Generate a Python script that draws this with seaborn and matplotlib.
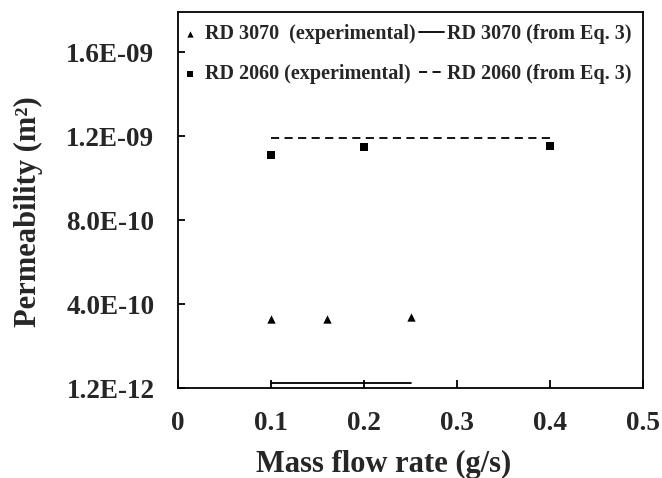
import seaborn as sns
import matplotlib.pyplot as plt
import pandas as pd

# Экспериментальные точки
rd3070_flow = [0.1, 0.16, 0.25]
rd3070_perm = [3.33e-10, 3.29e-10, 3.40e-10]
rd2060_flow = [0.1, 0.2, 0.4]
rd2060_perm = [1.112e-09, 1.150e-09, 1.155e-09]

# Расчёт по уравнению 3
rd3070_eq_flow = [0.1, 0.25]
rd3070_eq_perm = [2.7e-11, 2.7e-11]
rd2060_eq_flow = [0.1, 0.4]
rd2060_eq_perm = [1.19e-09, 1.19e-09]

x_ticks = [0, 0.1, 0.2, 0.3, 0.4, 0.5]
x_labels = ['0', '0.1', '0.2', '0.3', '0.4', '0.5']
y_ticks = [1.2e-12, 4.012e-10, 8.012e-10, 1.2012e-09, 1.6012e-09]
y_labels = ['1.2E-12', '4.0E-10', '8.0E-10', '1.2E-09', '1.6E-09']

sns.set_style('ticks')
plt.rcParams['font.family'] = ['Liberation Serif', 'DejaVu Serif']
plt.rcParams['font.weight'] = 'bold'

fig = plt.figure(figsize=(6.62, 4.78), dpi=100)
ax = fig.add_axes([0.2689, 0.1877, 0.7024, 0.7878])

df3070 = pd.DataFrame({'flow': rd3070_flow, 'perm': rd3070_perm})
df2060 = pd.DataFrame({'flow': rd2060_flow, 'perm': rd2060_perm})
eq3070 = pd.DataFrame({'flow': rd3070_eq_flow, 'perm': rd3070_eq_perm})
eq2060 = pd.DataFrame({'flow': rd2060_eq_flow, 'perm': rd2060_eq_perm})

sns.scatterplot(data=df3070, x='flow', y='perm', marker='^', s=36, color='black',
                edgecolor='black', linewidth=0, label='RD 3070  (experimental)', ax=ax)
sns.scatterplot(data=df2060, x='flow', y='perm', marker='s', s=36, color='black',
                edgecolor='black', linewidth=0, label='RD 2060 (experimental)', ax=ax)
sns.lineplot(data=eq3070, x='flow', y='perm', color='black', linewidth=1.3,
             label='RD 3070 (from Eq. 3)', ax=ax)
sns.lineplot(data=eq2060, x='flow', y='perm', color='black', linewidth=1.3,
             dashes=False, label='RD 2060 (from Eq. 3)', ax=ax)
ax.lines[-1].set_linestyle((0, (4.5, 3)))

ax.set_xlim(0, 0.5)
ax.set_ylim(1.2e-12, 1.793e-09)
ax.set_xticks(x_ticks)
ax.set_xticklabels(x_labels)
ax.set_yticks(y_ticks)
ax.set_yticklabels(y_labels)
ax.tick_params(axis='both', direction='in', labelsize=19.5, width=1.3, color='black')
ax.tick_params(axis='x', length=6, pad=16)
ax.tick_params(axis='y', length=5, pad=17)
for lbl in ax.get_xticklabels() + ax.get_yticklabels():
    lbl.set_fontweight('bold')

for sp in ax.spines.values():
    sp.set_linewidth(1.3)
    sp.set_color('black')

ax.set_xlabel('Mass flow rate (g/s)', fontsize=22, fontweight='bold')
ax.set_ylabel('Permeability (m²)', fontsize=22, fontweight='bold')
ax.xaxis.set_label_coords(0.443, -0.165)
ax.yaxis.set_label_coords(-0.29, 0.468)

handles, labels = ax.get_legend_handles_labels()
leg = ax.legend(handles, labels, ncol=2, loc='upper left', bbox_to_anchor=(-0.028, 1.0),
                frameon=False, fontsize=14.5, borderaxespad=0, borderpad=0.6,
                handlelength=1.25, handletextpad=0.12, columnspacing=0.2,
                labelspacing=1.0, markerscale=0.75)
for t in leg.get_texts():
    t.set_fontweight('bold')

fig.savefig('out.png', dpi=100)
plt.close()
